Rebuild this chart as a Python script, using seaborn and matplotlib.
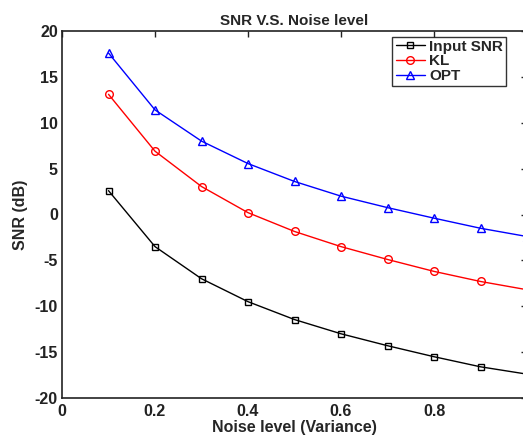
import numpy as np
import pandas as pd
import matplotlib
matplotlib.use("Agg")
import matplotlib.pyplot as plt
import seaborn as sns

noise = [0.1, 0.2, 0.3, 0.4, 0.5, 0.6, 0.7, 0.8, 0.9, 1.0]
input_snr = [2.6, -3.5, -7.0, -9.5, -11.45, -13.0, -14.3, -15.5, -16.6, -17.4]
kl = [13.1, 6.9, 3.05, 0.2, -1.85, -3.5, -4.9, -6.2, -7.3, -8.2]
opt = [17.6, 11.4, 8.0, 5.55, 3.6, 2.0, 0.75, -0.4, -1.5, -2.4]
series_names = ["Input SNR", "KL", "OPT"]
x_ticks = [0, 0.2, 0.4, 0.6, 0.8]
y_ticks = [-20, -15, -10, -5, 0, 5, 10, 15, 20]

df = pd.DataFrame({
    "noise": noise * 3,
    "snr": input_snr + kl + opt,
    "method": [n for n in series_names for _ in noise],
})

sns.set_style("white")
plt.rcParams["font.family"] = ["Liberation Sans", "DejaVu Sans"]
plt.rcParams["font.weight"] = "bold"
plt.rcParams["axes.unicode_minus"] = False

fig = plt.figure(figsize=(5.23, 4.37), dpi=100)
ax = fig.add_axes([62 / 523, 39 / 437, 465 / 523, 367 / 437])

palette = {"Input SNR": "black", "KL": "red", "OPT": "blue"}
markers = {"Input SNR": "s", "KL": "o", "OPT": "^"}
sns.lineplot(data=df, x="noise", y="snr", hue="method", style="method",
             palette=palette, markers=markers, dashes=False, ax=ax,
             linewidth=1.0, markersize=5, markerfacecolor="none",
             markeredgewidth=1.0, clip_on=False)
for line in ax.get_lines():
    line.set_markerfacecolor("none")
    line.set_markeredgecolor(line.get_color())
    if line.get_marker() == "s":
        line.set_markersize(4)
    elif line.get_marker() == "o":
        line.set_markersize(5.5)
    elif line.get_marker() == "^":
        line.set_markersize(5.5)

ax.set_xlim(0, 1)
ax.set_ylim(-20, 20)
ax.set_xticks(x_ticks)
ax.set_xticklabels(["0", "0.2", "0.4", "0.6", "0.8"])
ax.set_yticks(y_ticks)
ax.tick_params(direction="in", length=4, width=1, labelsize=11.5, pad=3,
               top=True, right=True, colors="#222222")
ax.tick_params(axis="x", pad=4)
for lab in ax.get_xticklabels() + ax.get_yticklabels():
    lab.set_fontweight("bold")
for s in ax.spines.values():
    s.set_linewidth(1.2)
    s.set_color("#222222")

ax.set_xlabel("Noise level (Variance)", fontsize=11.5, fontweight="bold", labelpad=1)
ax.set_ylabel("SNR (dB)", fontsize=11.5, fontweight="bold", labelpad=5)
ax.set_title("SNR V.S. Noise level", fontsize=11, fontweight="bold", pad=4)

leg = ax.legend(loc="upper right", bbox_to_anchor=(0.955, 0.985), frameon=True,
                fancybox=False, edgecolor="black", fontsize=11,
                handlelength=1.9, handletextpad=0.3, borderpad=0.2,
                labelspacing=0.05, borderaxespad=0)
leg.get_frame().set_linewidth(1.0)
for t in leg.get_texts():
    t.set_fontweight("bold")
for h in leg.get_lines():
    h.set_markerfacecolor("none")

fig.savefig("out.png", dpi=100)
